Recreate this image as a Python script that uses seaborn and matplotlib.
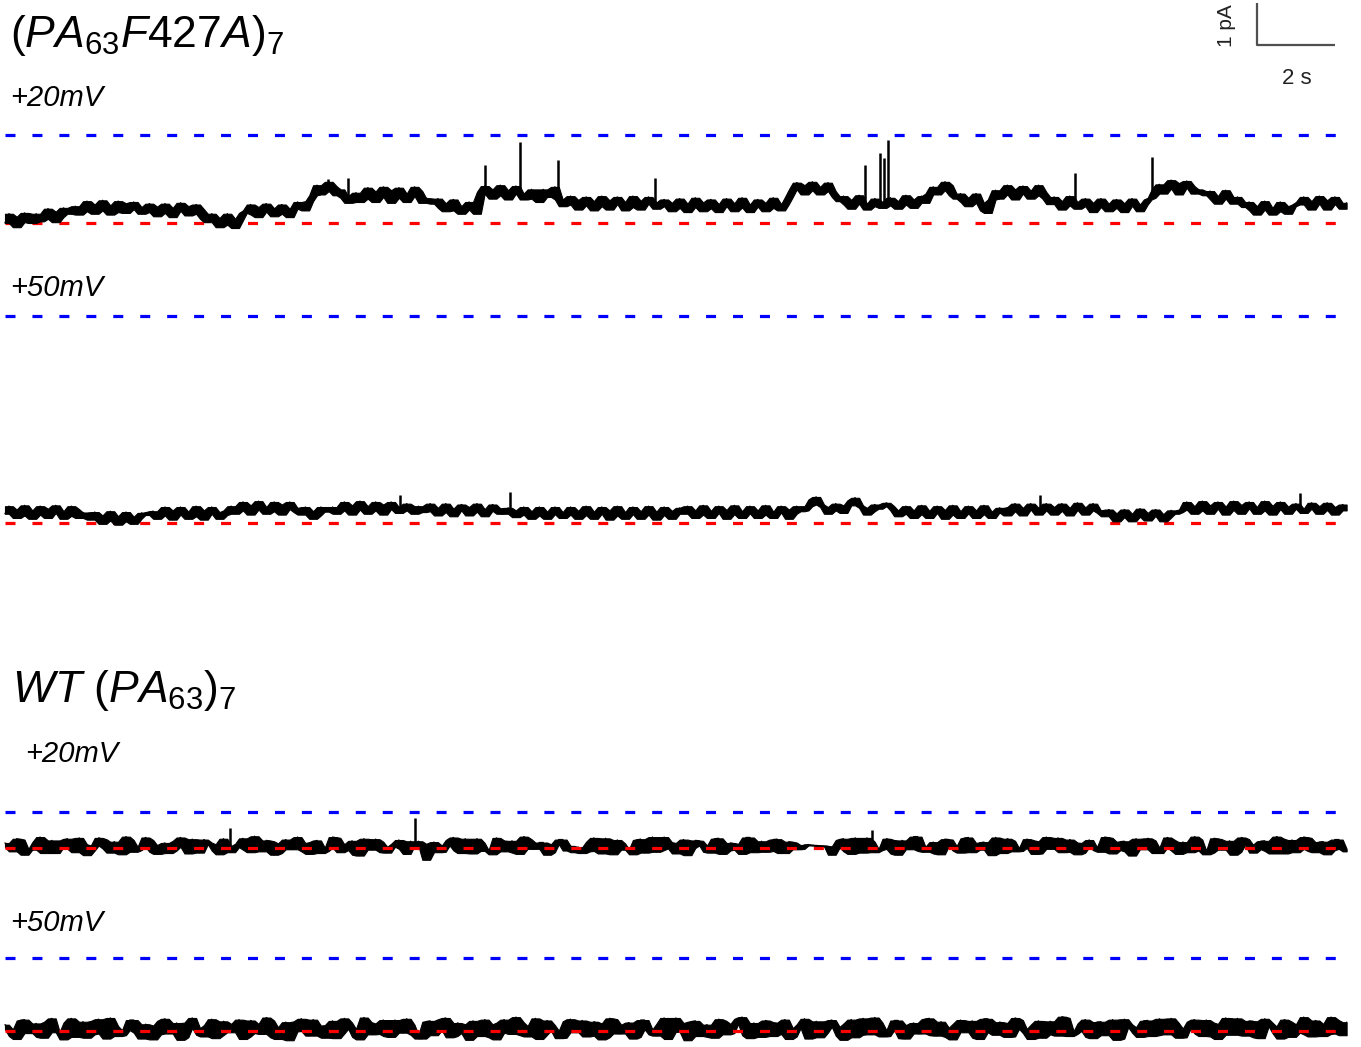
import numpy as np
import pandas as pd
import matplotlib
matplotlib.use("Agg")
import matplotlib.pyplot as plt
import seaborn as sns

sns.set_theme(style="white")
plt.rcParams["font.family"] = ["Liberation Sans", "DejaVu Sans"]
plt.rcParams["mathtext.fontset"] = "custom"
plt.rcParams["mathtext.it"] = "Liberation Sans:italic"
plt.rcParams["mathtext.rm"] = "Liberation Sans"
plt.rcParams["mathtext.default"] = "it"
plt.rcParams["lines.scale_dashes"] = False
plt.rcParams["text.color"] = "black"

# ---------------- data (current in pA) ----------------
# noise samples at t = 0, 0.2, 0.4 ... s and intermediate samples at t = 0.1, 0.3 ... s
dt = 0.2
f427a_20mv = [
    0.00, 0.15, 0.02, 0.12,
    0.22, 0.10, 0.27, 0.14, 0.25,
    0.40, 0.28, 0.44, 0.30, 0.42, 0.26, 0.47, 0.33, 0.38,
    0.26, 0.39, 0.24, 0.36, 0.29, 0.40, 0.22, 0.33,
    0.02, 0.12, -0.04, 0.10, 0.06,
    0.30, 0.20, 0.38, 0.27, 0.35, 0.22, 0.34,
    0.40, 0.52,
    0.90, 0.76, 0.88, 0.80,
    0.48,
    0.72, 0.58, 0.75, 0.62, 0.78, 0.60, 0.70, 0.64, 0.76, 0.59,
    0.46, 0.36, 0.47,
    0.30, 0.40, 0.32,
    0.74,
    0.70, 0.80, 0.66, 0.78,
    0.70,
    0.58, 0.68,
    0.80, 0.70,
    0.56,
    0.44, 0.55, 0.42, 0.52, 0.40, 0.54, 0.45, 0.50, 0.38, 0.53, 0.46, 0.49,
    0.44,
    0.40, 0.48, 0.36, 0.46, 0.38, 0.49, 0.35, 0.45, 0.40, 0.47, 0.37, 0.44, 0.39, 0.48, 0.36, 0.45,
    0.80, 0.90, 0.78, 0.86, 0.82, 0.76,
    0.52, 0.44, 0.55,
    0.46,
    0.40,
    0.50,
    0.42,
    0.46,
    0.52, 0.44, 0.56, 0.48,
    0.86, 0.78, 0.90,
    0.58, 0.50, 0.60, 0.48,
    0.24,
    0.78, 0.68, 0.80, 0.70, 0.77, 0.66, 0.74,
    0.45, 0.52, 0.42,
    0.50,
    0.40, 0.48, 0.38, 0.46, 0.42, 0.36, 0.47, 0.41, 0.44,
    0.60,
    0.92, 0.82, 0.95, 0.84, 0.88, 0.80,
    0.66, 0.56, 0.64, 0.58, 0.62,
    0.38, 0.30, 0.40, 0.32, 0.36, 0.28, 0.40,
    0.50, 0.44, 0.52, 0.46, 0.54, 0.45, 0.48,
]
f427a_20mv_mid = [
    0.22, -0.10, 0.24, 0.00,
    0.04, 0.34, 0.02, 0.36, 0.22,
    0.20, 0.52, 0.22, 0.54, 0.20, 0.52, 0.24, 0.50, 0.22,
    0.46, 0.16, 0.46, 0.14, 0.48, 0.18, 0.44, 0.10,
    0.22, -0.10, 0.22, -0.12, 0.24,
    0.44, 0.14, 0.46, 0.16, 0.44, 0.14, 0.50,
    0.30, 0.66,
    0.68, 0.98, 0.66, 0.60,
    0.64,
    0.50, 0.84, 0.50, 0.86, 0.48, 0.84, 0.50, 0.86, 0.48, 0.56,
    0.58, 0.28, 0.56,
    0.22, 0.50, 0.22,
    0.88,
    0.58, 0.90, 0.56, 0.88,
    0.56,
    0.80, 0.50,
    0.62, 0.86,
    0.40,
    0.64, 0.32, 0.62, 0.30, 0.64, 0.32, 0.62, 0.30, 0.64, 0.32, 0.62, 0.34,
    0.56,
    0.28, 0.58, 0.26, 0.60, 0.28, 0.56, 0.26, 0.58, 0.28, 0.60, 0.26, 0.56, 0.28, 0.60, 0.30, 0.62,
    0.96, 0.68, 0.98, 0.68, 0.96, 0.62,
    0.64, 0.34, 0.66,
    0.32,
    0.58,
    0.36,
    0.60,
    0.34,
    0.66, 0.36, 0.64, 0.70,
    0.68, 0.98, 0.66,
    0.70, 0.40, 0.70, 0.30,
    0.56,
    0.58, 0.90, 0.56, 0.88, 0.58, 0.90, 0.58,
    0.62, 0.32, 0.64,
    0.34,
    0.58, 0.26, 0.58, 0.28, 0.56, 0.26, 0.58, 0.28, 0.56,
    0.80,
    0.70, 1.02, 0.68, 1.00, 0.70, 0.72,
    0.76, 0.46, 0.78, 0.46, 0.50,
    0.50, 0.20, 0.52, 0.20, 0.50, 0.22, 0.44,
    0.62, 0.32, 0.64, 0.32, 0.62, 0.34,
]
f427a_20mv_spike_t = [8.28, 8.79, 12.30, 13.20, 14.18, 16.67, 22.05, 22.44, 22.54, 22.64, 27.44, 29.41]
f427a_20mv_spike_pA = [1.05, 1.07, 1.38, 1.93, 1.50, 1.07, 1.38, 1.67, 1.55, 1.98, 1.19, 1.57]

f427a_50mv = [
    0.22, 0.32, 0.18, 0.30, 0.20, 0.34, 0.24, 0.28, 0.17, 0.33, 0.25,
    0.08, 0.18, 0.06, 0.16, 0.04, 0.15, 0.10, 0.19,
    0.28, 0.18, 0.30, 0.20, 0.27, 0.16, 0.30, 0.22, 0.26, 0.19,
    0.40, 0.30, 0.42, 0.32, 0.38, 0.28, 0.44, 0.33, 0.36,
    0.20, 0.28, 0.18, 0.27,
    0.38, 0.30, 0.42, 0.32, 0.40, 0.30, 0.44, 0.33, 0.38,
    0.30,
    0.34, 0.40,
    0.28, 0.36, 0.26, 0.34, 0.30, 0.38, 0.27, 0.33, 0.29, 0.35,
    0.22,
    0.30,
    0.20, 0.28, 0.18, 0.27, 0.21, 0.26,
    0.20, 0.29, 0.19, 0.27, 0.22, 0.30, 0.18, 0.26, 0.21, 0.28, 0.20, 0.27, 0.19, 0.29, 0.23,
    0.22, 0.30, 0.20, 0.29, 0.24, 0.31, 0.21, 0.28, 0.23, 0.30, 0.20, 0.27, 0.25, 0.32, 0.22, 0.28,
    0.40,
    0.62,
    0.38, 0.30, 0.34, 0.42,
    0.60,
    0.36, 0.28, 0.34,
    0.48,
    0.30,
    0.22, 0.30, 0.21, 0.29, 0.24, 0.31, 0.20, 0.28, 0.23, 0.30, 0.21, 0.27, 0.25,
    0.30, 0.38, 0.28, 0.36, 0.32,
    0.36,
    0.30, 0.38, 0.29, 0.36, 0.31, 0.37, 0.30,
    0.16, 0.23, 0.14, 0.22, 0.15, 0.24, 0.17, 0.21, 0.13, 0.22,
    0.32, 0.40, 0.30, 0.42, 0.34, 0.39, 0.31, 0.43, 0.35, 0.38, 0.30, 0.41, 0.33, 0.39, 0.36,
    0.34,
    0.34, 0.40, 0.31, 0.38, 0.33, 0.30,
]
f427a_50mv_mid = [
    0.40, 0.12, 0.42, 0.10, 0.40, 0.12, 0.42, 0.10, 0.40, 0.12, 0.16,
    0.26, -0.02, 0.28, -0.04, 0.26, -0.02, 0.24, 0.26,
    0.10, 0.38, 0.08, 0.38, 0.10, 0.40, 0.08, 0.38, 0.10, 0.30,
    0.22, 0.50, 0.20, 0.52, 0.22, 0.50, 0.20, 0.50, 0.26,
    0.38, 0.10, 0.38, 0.30,
    0.22, 0.50, 0.20, 0.52, 0.22, 0.50, 0.20, 0.50, 0.24,
    0.46,
    0.22, 0.26,
    0.46, 0.18, 0.46, 0.16, 0.44, 0.18, 0.46, 0.16, 0.44, 0.22,
    0.36,
    0.14,
    0.38, 0.10, 0.38, 0.10, 0.38, 0.12,
    0.38, 0.10, 0.40, 0.10, 0.38, 0.08, 0.40, 0.10, 0.38, 0.10, 0.40, 0.08, 0.38, 0.10, 0.36,
    0.40, 0.12, 0.42, 0.12, 0.40, 0.10, 0.42, 0.12, 0.40, 0.12, 0.42, 0.12, 0.40, 0.10, 0.40, 0.30,
    0.56,
    0.44,
    0.22, 0.46, 0.24, 0.54,
    0.42,
    0.20, 0.44, 0.40,
    0.40,
    0.16,
    0.40, 0.12, 0.42, 0.12, 0.40, 0.10, 0.42, 0.12, 0.40, 0.12, 0.42, 0.12, 0.36,
    0.18, 0.46, 0.18, 0.46, 0.20,
    0.46,
    0.20, 0.46, 0.18, 0.48, 0.20, 0.46, 0.24,
    0.32, 0.04, 0.32, 0.04, 0.34, 0.06, 0.32, 0.04, 0.30, 0.26,
    0.50, 0.22, 0.52, 0.22, 0.50, 0.20, 0.52, 0.22, 0.50, 0.22, 0.52, 0.20, 0.50, 0.22, 0.46,
    0.24,
    0.48, 0.22, 0.48, 0.20, 0.44,
]
f427a_50mv_spike_t = [10.13, 12.95, 26.54, 33.20]
f427a_50mv_spike_pA = [0.67, 0.74, 0.67, 0.71]

wt_20mv = [
    0.12, -0.08, 0.20, -0.02, 0.14, -0.12, 0.18, 0.02, 0.22, -0.10,
    0.09, -0.06, 0.24, -0.01, 0.15, -0.15, 0.19, -0.05, 0.25, -0.09,
    0.07, -0.12, 0.17, 0.03, 0.21, -0.11, 0.13, -0.06, 0.22, -0.10,
    0.10, -0.04, 0.28, -0.08, 0.16, -0.12, 0.20, -0.03, 0.12, -0.14,
    0.18, -0.07, 0.26, -0.10, 0.09, -0.16, 0.22, -0.04, 0.15, -0.11,
    0.10, -0.02, 0.16, 0.16, -0.28, 0.14, -0.09, 0.19, -0.06, 0.22,
    -0.13, 0.12, -0.05, 0.24, -0.08, 0.17, -0.14, 0.21, -0.02, 0.13,
    -0.10, 0.20, -0.06, -0.10, -0.12, 0.15, -0.07, 0.23, -0.15, 0.11,
    -0.03, 0.19, -0.11, 0.26, -0.05, 0.14, -0.13, 0.20, 0.00, 0.17,
    -0.09, 0.22, -0.14, 0.12, -0.04, 0.25, -0.10, 0.16, -0.07, 0.21,
    -0.12, 0.13, -0.02, 0.08, 0.06, 0.05, -0.16, 0.19, -0.08, 0.24,
    -0.11, 0.15, -0.05, 0.22, -0.13, 0.18, -0.03, 0.27, -0.09, 0.14,
    -0.15, 0.20, -0.06, 0.23, -0.10, 0.12, -0.04, 0.25, -0.12, 0.17,
    -0.07, 0.21, -0.14, 0.16, -0.02, 0.24, -0.09, 0.13, -0.11, 0.19,
    -0.05, 0.26, -0.13, 0.15, -0.08, 0.22, -0.03, 0.18, -0.12, 0.25,
    -0.06, 0.14, -0.10, 0.20, -0.15, 0.23, -0.04, 0.17, -0.09, 0.21,
    -0.11, 0.16, -0.07, 0.27, -0.13, 0.19, -0.02, 0.24, -0.10, 0.15,
    -0.05, 0.20, -0.08,
]
wt_20mv_mid = [
    0.02, 0.22, -0.16, -0.04, 0.26, 0.08, -0.12, 0.18, -0.02, 0.24,
    -0.17, 0.06, 0.21, -0.11, -0.01, 0.27, -0.09, 0.03, 0.19, -0.14,
    0.12, -0.06, 0.25, -0.13, 0.00, 0.20, 0.09, -0.15, 0.05, 0.02,
    0.23, -0.10, 0.04, 0.18, -0.16, 0.11, -0.03, 0.26, -0.08, 0.14,
    -0.12, 0.01, 0.24, -0.05, 0.17, -0.18, 0.08, 0.21, -0.10, 0.03,
    0.19, -0.14, 0.05, 0.10, 0.05, -0.10, 0.06, 0.25, -0.12, 0.02,
    0.22, -0.07, -0.15, 0.18, 0.04, -0.11, 0.27, -0.02, 0.13, -0.16,
    0.09, 0.20, 0.05, 0.02, -0.08, 0.24, -0.13, 0.07, 0.19, -0.04,
    -0.15, 0.21, 0.03, -0.09, 0.26, -0.01, 0.12, -0.17, 0.18, 0.06,
    -0.11, 0.23, -0.06, 0.10, -0.14, 0.25, 0.01, -0.09, 0.20, -0.12,
    0.15, -0.03, 0.07, 0.06, 0.05, 0.04, 0.01, 0.22, -0.14, 0.08,
    0.24, -0.10, -0.02, 0.19, -0.16, 0.11, 0.27, -0.07, 0.03, -0.13,
    0.21, 0.05, -0.11, 0.25, -0.04, 0.14, -0.17, 0.09, 0.22, -0.08,
    0.00, 0.18, -0.13, 0.26, 0.06, -0.10, 0.20, -0.15, 0.12, 0.02,
    -0.09, 0.24, -0.05, 0.16, -0.18, 0.07, 0.23, -0.12, 0.01, 0.19,
    -0.14, 0.10, 0.27, -0.06, -0.11, 0.21, 0.04, -0.16, 0.25, 0.08,
    -0.03, 0.17, -0.13, 0.22, 0.05, -0.10, 0.26, -0.07, 0.14, -0.15,
    0.20, -0.02,
]
wt_20mv_spike_t = [5.77, 10.51, 22.23]
wt_20mv_spike_pA = [0.48, 0.71, 0.43]

wt_50mv = [
    0.15, -0.12, 0.25, -0.05, 0.18, -0.16, 0.30, -0.02, 0.20, -0.14,
    0.22, -0.08, 0.28, -0.18, 0.12, -0.10, 0.26, -0.04, 0.16, -0.20,
    0.24, -0.06, 0.19, -0.15, 0.31, -0.09, 0.14, -0.17, 0.23, -0.03,
    0.27, -0.13, 0.17, -0.07, 0.25, -0.19, 0.21, -0.01, 0.29, -0.11,
    0.13, -0.16, 0.24, -0.06, 0.20, -0.14, 0.32, -0.08, 0.18, -0.12,
    0.26, -0.04, 0.15, -0.18, 0.22, -0.10, 0.28, -0.15, 0.19, -0.05,
    0.24, -0.12, 0.16, -0.20, 0.27, -0.07, 0.21, -0.13, 0.30, -0.09,
    0.14, -0.17, 0.23, -0.03, 0.25, -0.11, 0.18, -0.15, 0.28, -0.06,
    0.20, -0.14, 0.26, -0.08, 0.17, -0.19, 0.31, -0.02, 0.22, -0.12,
    0.15, -0.16, 0.24, -0.05, 0.29, -0.10, 0.19, -0.14, 0.21, -0.07,
    0.27, -0.13, 0.16, -0.18, 0.23, -0.04, 0.26, -0.11, 0.18, -0.15,
    0.30, -0.08, 0.20, -0.12, 0.25, -0.17, 0.14, -0.06, 0.28, -0.10,
    0.22, -0.14, 0.17, -0.03, 0.24, -0.19, 0.29, -0.09, 0.19, -0.13,
    0.26, -0.05, 0.15, -0.16, 0.23, -0.11, 0.31, -0.07, 0.18, -0.14,
    0.21, -0.10, 0.27, -0.18, 0.16, -0.04, 0.24, -0.12, 0.29, -0.08,
    0.19, -0.15, 0.22, -0.06, 0.26, -0.13, 0.17, -0.09, 0.30, -0.11,
    0.23, -0.17, 0.20, -0.05, 0.27, -0.14, 0.16, -0.08, 0.25, -0.12,
    0.33, -0.06, 0.21,
]
wt_50mv_mid = [
    0.04, -0.19, 0.27, 0.08, -0.14, 0.22, -0.03, -0.20, 0.30, 0.10,
    -0.16, 0.24, -0.06, 0.31, -0.12, 0.02, 0.26, -0.18, 0.13, -0.08,
    0.29, -0.01, -0.21, 0.20, 0.07, -0.13, 0.28, -0.10, 0.17, 0.03,
    -0.19, 0.25, -0.05, 0.32, -0.15, 0.09, -0.22, 0.23, 0.00, 0.27,
    -0.11, 0.14, -0.17, 0.30, 0.05, -0.20, 0.21, -0.07, 0.26, -0.14,
    0.11, 0.29, -0.09, -0.18, 0.24, 0.02, 0.31, -0.12, 0.16, -0.21,
    0.06, 0.27, -0.15, 0.20, -0.04, 0.33, -0.10, 0.12, -0.19, 0.25,
    0.01, -0.16, 0.28, 0.08, -0.13, 0.22, -0.20, 0.30, -0.06, 0.15,
    -0.18, 0.26, 0.04, -0.11, 0.31, -0.02, 0.19, -0.22, 0.24, 0.09,
    -0.14, 0.28, -0.08, 0.17, 0.33, -0.17, 0.03, 0.25, -0.12, 0.20,
    -0.19, 0.07, 0.29, -0.05, -0.15, 0.23, 0.10, -0.21, 0.27, -0.09,
    0.14, 0.32, -0.13, 0.02, 0.25, -0.18, 0.19, -0.06, 0.30, -0.11,
    0.08, -0.20, 0.26, 0.12, -0.16, 0.29, -0.03, 0.21, -0.14, 0.31,
    0.05, -0.19, 0.24, -0.08, 0.16, 0.34, -0.12, 0.00, 0.27, -0.17,
    0.22, -0.05, -0.21, 0.28, 0.09, -0.14, 0.25, -0.10, 0.18, 0.30,
    -0.16, 0.06, 0.27, -0.12, 0.20, -0.19, 0.31, 0.03, -0.09, 0.24,
    -0.15, 0.29, 0.11, -0.18, 0.22, -0.04, 0.33, -0.13, 0.17, -0.07,
    0.26, -0.10,
]
wt_50mv_spike_t = []
wt_50mv_spike_pA = []

traces = [
    (f427a_20mv, f427a_20mv_mid, f427a_20mv_spike_t, f427a_20mv_spike_pA),
    (f427a_50mv, f427a_50mv_mid, f427a_50mv_spike_t, f427a_50mv_spike_pA),
    (wt_20mv, wt_20mv_mid, wt_20mv_spike_t, wt_20mv_spike_pA),
    (wt_50mv, wt_50mv_mid, wt_50mv_spike_t, wt_50mv_spike_pA),
]
open_levels = [2.10, 4.93, 0.86, 1.74]      # blue dashed (open level, pA)
closed_levels = [0.0, 0.0, 0.0, 0.0]        # red dashed (closed level, pA)
voltage_labels = ["+20mV", "+50mV", "+20mV", "+50mV"]
group_titles = [r"$(PA_{63}F427A)_7$", r"$WT\ (PA_{63})_7$"]
scale_time = 2.0     # s
scale_current = 1.0  # pA
trace_duration = 34.2

# ---------------- layout (pixel-based) ----------------
W, H = 1361, 1047
PX_PER_S = 39.0
PX_PER_PA = 42.0
X0 = 5
baseline_px = [223, 523, 848, 1031]
red_on_top = [False, False, True, True]

def py(p):
    return -p / PX_PER_PA

def ptime(p):
    return (p - X0) / PX_PER_S

fig = plt.figure(figsize=(W / 100, H / 100), dpi=100)
ax = fig.add_axes([0, 0, 1, 1])
ax.set_xlim(ptime(0), ptime(W))
ax.set_ylim(py(H), 0)
ax.axis("off")

dash = (0, (7.2, 12.2))
for k, (lv, md, sp_t, sp_a) in enumerate(traces):
    off = py(baseline_px[k])
    n = len(lv) + len(md)
    cur = np.empty(n)
    cur[0::2] = lv
    cur[1::2] = md
    t = np.arange(n) * dt / 2
    df = pd.DataFrame({"t": t, "i": cur + off})
    # min/max display envelope of the noisy record
    roll = df["i"].rolling(3, center=True, min_periods=1)
    ax.fill_between(df["t"], roll.min(), roll.max(),
                    color="black", lw=0.8, edgecolor="black", zorder=2)
    sns.lineplot(data=df, x="t", y="i", ax=ax, color="black", lw=1.0,
                 estimator=None, sort=False, zorder=2)
    if sp_t:
        base = np.interp(sp_t, t, cur)
        ax.vlines(sp_t, base + off, np.array(sp_a) + off, color="black",
                  lw=1.8, zorder=2)
    ax.plot([0, trace_duration], [off + open_levels[k]] * 2, color="#0000ff",
            lw=2.3, linestyle=dash, zorder=1)
    ax.plot([0, trace_duration], [off + closed_levels[k]] * 2, color="#ff0000",
            lw=2.3, linestyle=dash, zorder=3 if red_on_top[k] else 1)

# scale bar
sx, sy = ptime(1257), py(45)
ax.plot([sx, sx, sx + scale_time], [sy + scale_current, sy, sy],
        color="#505050", lw=1.6, solid_capstyle="butt", zorder=4)

def ftext(px, pyy, s, **kw):
    fig.text(px / W, 1 - pyy / H, s, **kw)

ftext(10, 47, group_titles[0], fontsize=32, va="baseline", ha="left")
ftext(12, 702, group_titles[1], fontsize=32, va="baseline", ha="left")
label_pos = [(10, 106), (10, 296), (25, 762), (10, 931)]
for (lx, ly), lab in zip(label_pos, voltage_labels):
    ftext(lx, ly, lab, fontsize=21, fontstyle="italic", va="baseline", ha="left")

ftext(1226, 26, f"{scale_current:g} pA", fontsize=15, rotation=90,
      va="center", ha="center", color="#222222")
ftext(1297, 78, f"{scale_time:g} s", fontsize=16, va="center", ha="center",
      color="#222222")

fig.savefig("out.png", dpi=100)
